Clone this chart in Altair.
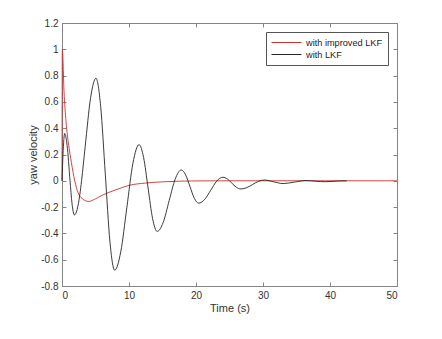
import altair as alt
import pandas as pd

# ---- data ----
series_names = ["with improved LKF", "with LKF"]
series_colors = ["#cc2f2f", "#262626"]

red_t = [0, 0.05, 0.3, 0.6, 1.0, 1.4, 1.9, 2.4, 3.0, 4.0, 5.0, 6.0, 7.0, 8.5,
         10.0, 12.5, 15.0, 20.0, 25.0, 50.0]
red_v = [0, 1.0, 0.68, 0.45, 0.27, 0.14, 0.0, -0.09, -0.135, -0.157, -0.137,
         -0.11, -0.088, -0.06, -0.035, -0.017, -0.008, -0.001, 0.0, 0.0]

blk_t = [0, 0.15, 0.4, 0.76, 1.2, 1.49, 1.85, 2.655, 2.92, 3.46, 4.26, 5.07,
         5.77, 6.465, 7.16, 7.86, 8.77, 9.68, 10.59, 11.5, 12.175, 12.85,
         13.525, 14.2, 15.1, 16.0, 16.9, 17.8, 18.45, 19.1, 19.75, 20.4, 21.3,
         22.2, 23.1, 24.0, 24.675, 25.35, 26.025, 26.7, 27.575, 28.45, 29.325,
         30.2, 31.6, 33.0, 34.7, 36.4, 37.85, 39.3, 41.0, 42.5]
blk_v = [0.0, 0.2, 0.36, 0.27, 0.0, -0.17, -0.26, -0.108, 0.0, 0.26, 0.628, 0.78,
         0.566, 0.05, -0.466, -0.68, -0.54, -0.2025, 0.135, 0.275, 0.178, -0.055,
         -0.288, -0.385, -0.317, -0.15, 0.014, 0.082, 0.045, -0.044, -0.133, -0.17,
         -0.141, -0.072, -0.002, 0.027, 0.014, -0.018, -0.049, -0.062, -0.052,
         -0.028, -0.004, 0.006, -0.008, -0.021, -0.01, 0.002, -0.003, -0.007,
         -0.002, 0.0]

x_ticks = [0, 10, 20, 30, 40, 50]
y_ticks = [-0.8, -0.6, -0.4, -0.2, 0, 0.2, 0.4, 0.6, 0.8, 1.0, 1.2]

df_red = pd.DataFrame({"t": red_t, "v": red_v, "s": series_names[0]})
df_blk = pd.DataFrame({"t": blk_t, "v": blk_v, "s": series_names[1]})

FONT = "Liberation Sans"
AX_COL = "#858585"
TXT_COL = "#333333"

xscale = alt.Scale(domain=[0, 50], nice=False, zero=False)
yscale = alt.Scale(domain=[-0.8, 1.2], nice=False, zero=False)

legend = alt.Legend(
    title=None, orient="none", legendX=204, legendY=9,
    symbolType="M-1,0H5", symbolSize=100, symbolStrokeWidth=1,
    labelFont=FONT, labelFontSize=9.2, labelColor="#222222", labelOffset=24,
    strokeColor="#555555", fillColor="white", padding=5, rowPadding=1,
    labelLimit=300,
)
color = alt.Color("s:N", scale=alt.Scale(domain=series_names, range=series_colors),
                  legend=legend)

common = dict(domain=False, grid=False, ticks=True, tickSize=4, offset=-4,
              tickColor=AX_COL, tickWidth=1, labelFont=FONT, labelColor=TXT_COL,
              labelFontSize=10, titleFont=FONT, titleColor=TXT_COL,
              titleFontSize=11, titleFontWeight="normal")

x_bottom = alt.Axis(orient="bottom", values=x_ticks, labelPadding=4,
                    titlePadding=2, **common)
y_left = alt.Axis(orient="left", values=y_ticks, labelPadding=4, titlePadding=2,
                  labelExpr="'' + round(datum.value * 10) / 10", **common)
x_top = alt.Axis(orient="top", values=x_ticks, labels=False, **common)
y_right = alt.Axis(orient="right", values=y_ticks, labels=False, **common)

red = alt.Chart(df_red).mark_line(strokeWidth=0.9, interpolate="monotone").encode(
    x=alt.X("t:Q", scale=xscale, axis=x_bottom, title="Time (s)"),
    y=alt.Y("v:Q", scale=yscale, axis=y_left, title="yaw velocity"),
    color=color,
)
blk = alt.Chart(df_blk).mark_line(strokeWidth=0.9, interpolate="monotone").encode(
    x=alt.X("t:Q", scale=xscale, axis=x_top, title=None),
    y=alt.Y("v:Q", scale=yscale, axis=y_right, title=None),
    color=color,
)

chart = alt.layer(red, blk).resolve_axis(x="independent", y="independent").properties(
    width=335, height=263,
    padding={"left": 19, "top": 10, "right": 5, "bottom": 5},
    background="white",
).configure_view(stroke=AX_COL, strokeWidth=1)

chart.save("out.html", embed_options={"renderer": "svg", "actions": False})
